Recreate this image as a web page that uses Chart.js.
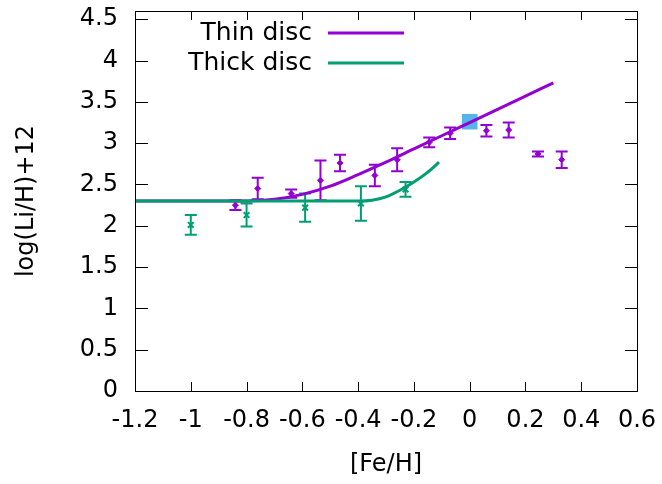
<!DOCTYPE html>
<html>
<head>
<meta charset="utf-8">
<script src="https://cdn.jsdelivr.net/npm/chart.js@4.4.0/dist/chart.umd.min.js"></script>
<style>
  html, body { margin: 0; padding: 0; background: #fff; }
</style>
</head>
<body>
<canvas id="chart" width="662" height="484"></canvas>
<script>
// thin disc stars
const thinFeH = [-0.84, -0.76, -0.64, -0.535, -0.465, -0.34, -0.26, -0.145, -0.07, 0.06, 0.14, 0.245, 0.33];
const thinLi  = [2.25, 2.45, 2.39, 2.55, 2.76, 2.61, 2.80, 3.01, 3.12, 3.15, 3.16, 2.87, 2.80];
const thinErr = [0.06, 0.13, 0.05, 0.24, 0.10, 0.13, 0.14, 0.06, 0.07, 0.07, 0.09, 0.03, 0.10];

// thick disc stars
const thickFeH = [-1.0, -0.80, -0.59, -0.39, -0.23];
const thickLi  = [2.01, 2.13, 2.22, 2.27, 2.44];
const thickErr = [0.12, 0.14, 0.17, 0.21, 0.09];

// sun
const sunFeH = [0];
const sunLi  = [3.26];

// model curves
const thinModelFeH = [-1.2, -0.9, -0.8, -0.7, -0.6, -0.5, -0.4, -0.3, -0.2, -0.1, 0, 0.1, 0.2, 0.3];
const thinModelLi  = [2.30, 2.30, 2.30, 2.32, 2.38, 2.48, 2.62, 2.77, 2.93, 3.09, 3.25, 3.41, 3.57, 3.73];
const thickModelFeH = [-1.2, -0.4, -0.35, -0.3, -0.25, -0.2, -0.15, -0.11];
const thickModelLi  = [2.30, 2.30, 2.31, 2.35, 2.43, 2.53, 2.65, 2.77];

const xTicks = [-1.2, -1, -0.8, -0.6, -0.4, -0.2, 0, 0.2, 0.4, 0.6];
const yTicks = [0, 0.5, 1, 1.5, 2, 2.5, 3, 3.5, 4, 4.5];

const PURPLE = '#9400d3';
const GREEN = '#009e73';
const BLUE = '#56b4e9';

const pts = (xs, ys) => xs.map((v, i) => ({ x: v, y: ys[i] }));

Chart.defaults.font.family = 'DejaVu Sans';
Chart.defaults.font.size = 24;
Chart.defaults.color = '#000';

const errorBars = {
  id: 'errorBars',
  beforeDatasetsDraw(chart) {
    const { ctx, scales: { x, y } } = chart;
    chart.data.datasets.forEach(ds => {
      if (!ds.errors) return;
      ctx.save();
      ctx.strokeStyle = ds.borderColor;
      ctx.lineWidth = 2;
      ds.data.forEach((p, j) => {
        const px = x.getPixelForValue(p.x);
        const top = y.getPixelForValue(p.y + ds.errors[j]);
        const bot = y.getPixelForValue(p.y - ds.errors[j]);
        ctx.beginPath();
        ctx.moveTo(px, top); ctx.lineTo(px, bot);
        ctx.moveTo(px - 6, top); ctx.lineTo(px + 6, top);
        ctx.moveTo(px - 6, bot); ctx.lineTo(px + 6, bot);
        ctx.stroke();
      });
      ctx.restore();
    });
  }
};

// gnuplot style frame with inward ticks on all sides, and the legend
const frame = {
  id: 'frame',
  afterDraw(chart) {
    const { ctx, chartArea: a, scales: { x, y } } = chart;
    ctx.save();
    ctx.strokeStyle = '#000';
    ctx.lineWidth = 1;
    ctx.strokeRect(a.left + 0.5, a.top + 0.5, a.right - a.left, a.bottom - a.top);
    ctx.beginPath();
    xTicks.forEach(v => {
      const px = Math.round(x.getPixelForValue(v)) + 0.5;
      ctx.moveTo(px, a.bottom); ctx.lineTo(px, a.bottom - 9);
      ctx.moveTo(px, a.top); ctx.lineTo(px, a.top + 9);
    });
    yTicks.forEach(v => {
      const py = Math.round(y.getPixelForValue(v)) + 0.5;
      ctx.moveTo(a.left, py); ctx.lineTo(a.left + 13, py);
      ctx.moveTo(a.right, py); ctx.lineTo(a.right - 12, py);
    });
    ctx.stroke();

    // legend, thin disc first
    ctx.font = '25px "DejaVu Sans"';
    ctx.textAlign = 'right';
    ctx.textBaseline = 'middle';
    ctx.fillStyle = '#000';
    const lines = chart.data.datasets.filter(ds => ds.showLine).reverse();
    lines.forEach((ds, i) => {
      const ly = 33 + i * 30;
      ctx.fillText(ds.label, 312, ly);
      ctx.strokeStyle = ds.borderColor;
      ctx.lineWidth = 3;
      ctx.beginPath();
      ctx.moveTo(328, ly); ctx.lineTo(404, ly);
      ctx.stroke();
    });
    ctx.restore();
  }
};

const fmt = v => String(parseFloat(Number(v).toFixed(1)));

new Chart(document.getElementById('chart'), {
  type: 'scatter',
  data: {
    datasets: [
      {
        label: 'Thick disc', data: pts(thickModelFeH, thickModelLi), showLine: true,
        borderColor: GREEN, borderWidth: 3, pointRadius: 0, cubicInterpolationMode: 'monotone', order: 0
      },
      {
        label: 'Thin disc', data: pts(thinModelFeH, thinModelLi), showLine: true,
        borderColor: PURPLE, borderWidth: 3, pointRadius: 0, cubicInterpolationMode: 'monotone', order: 1
      },
      {
        label: 'thick stars', data: pts(thickFeH, thickLi), errors: thickErr,
        borderColor: GREEN, backgroundColor: GREEN, pointStyle: 'crossRot', pointRadius: 4, borderWidth: 2, order: 2
      },
      {
        label: 'thin stars', data: pts(thinFeH, thinLi), errors: thinErr,
        borderColor: PURPLE, backgroundColor: PURPLE, pointStyle: 'rectRot', pointRadius: 3, borderWidth: 1, order: 3
      },
      {
        label: 'Sun', data: pts(sunFeH, sunLi),
        borderColor: BLUE, backgroundColor: BLUE, pointStyle: 'rect', pointRadius: 11, borderWidth: 0, order: 4
      }
    ]
  },
  options: {
    responsive: false,
    animation: false,
    layout: { padding: { top: 6, right: 25, left: 0, bottom: 0 } },
    plugins: { legend: { display: false }, tooltip: { enabled: false } },
    scales: {
      x: {
        type: 'linear', min: -1.2, max: 0.6,
        grid: { display: false, drawTicks: false },
        border: { display: false },
        ticks: { padding: 15, callback: fmt, maxRotation: 0, autoSkip: false },
        afterBuildTicks(s) { s.ticks = xTicks.map(v => ({ value: v })); },
        title: { display: true, text: '[Fe/H]', padding: { top: 0, bottom: 5 } },
        afterFit(s) { s.height = 93; s.paddingLeft = 0; s.paddingRight = 0; }
      },
      y: {
        type: 'linear', min: 0, max: 4.6,
        grid: { display: false, drawTicks: false },
        border: { display: false },
        ticks: { padding: 17, callback: fmt },
        afterBuildTicks(s) { s.ticks = yTicks.map(v => ({ value: v })); },
        title: { display: true, text: 'log(Li/H)+12', padding: { top: 12, bottom: 0 } },
        afterFit(s) { s.width = 135; s.paddingTop = 0; s.paddingBottom = 0; }
      }
    }
  },
  plugins: [errorBars, frame]
});
</script>
</body>
</html>
